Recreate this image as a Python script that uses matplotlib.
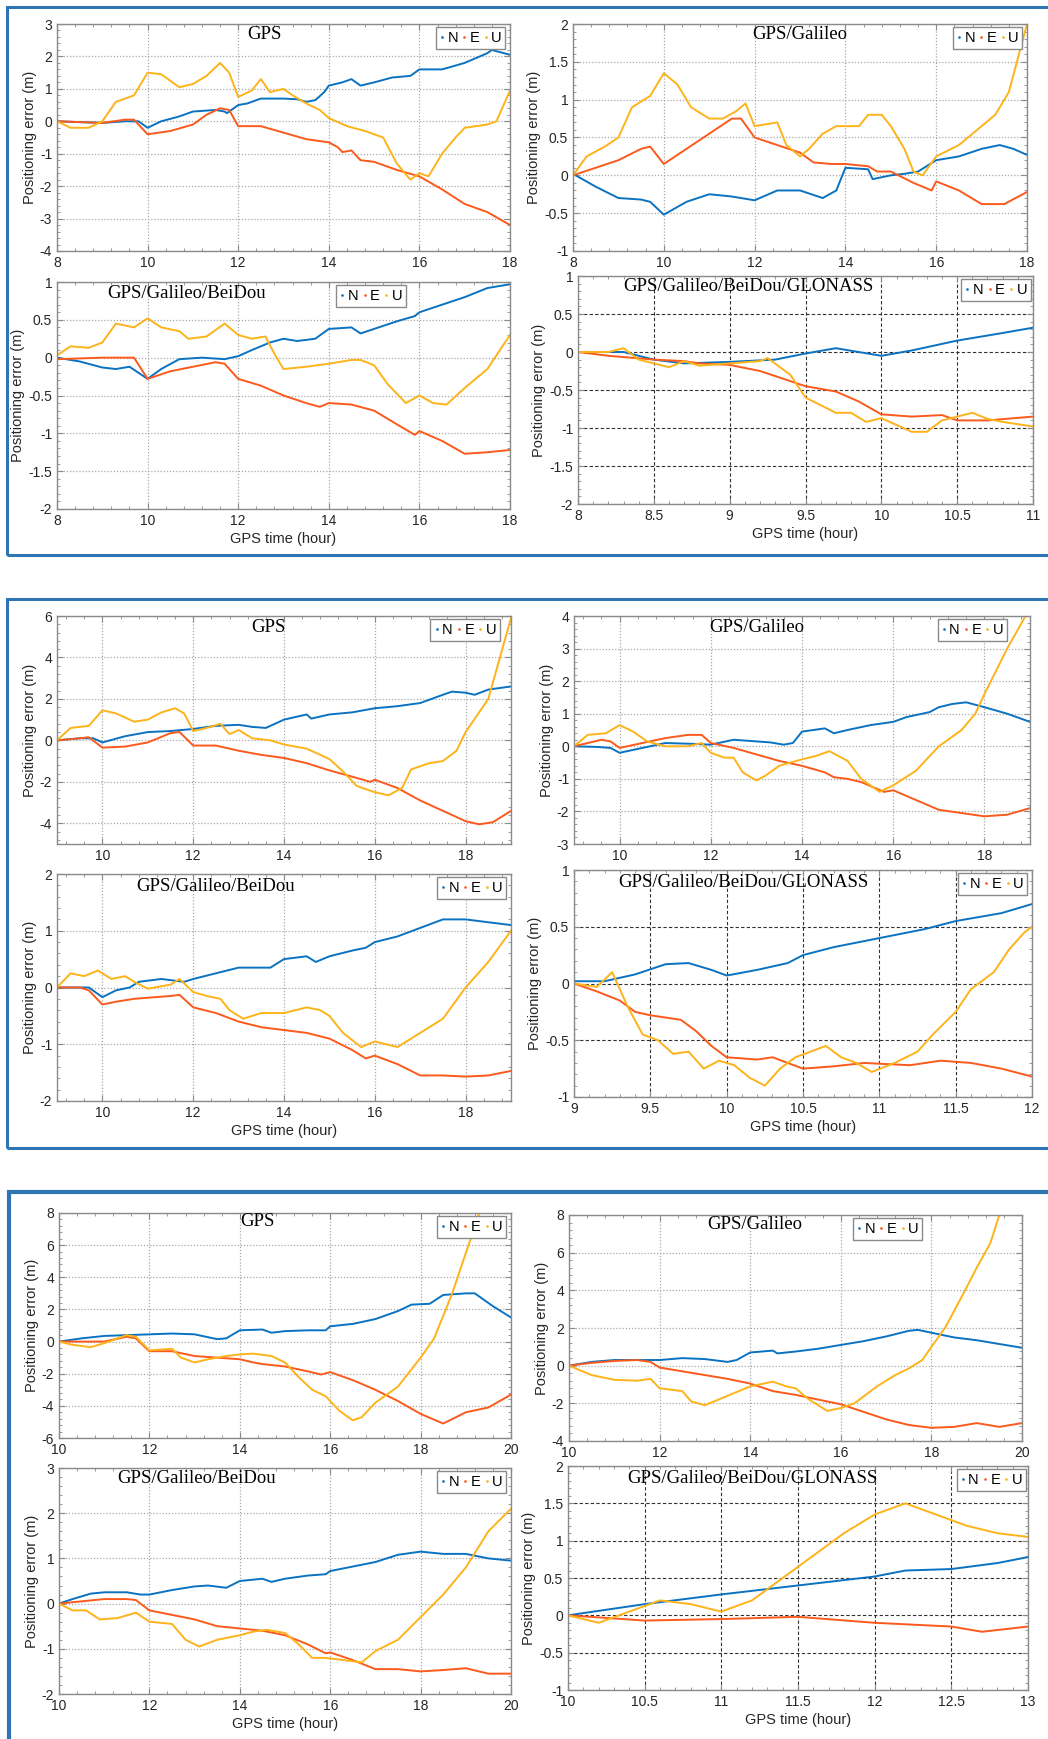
import matplotlib.pyplot as plt
from matplotlib.patches import Rectangle
from matplotlib.lines import Line2D
from matplotlib.ticker import MultipleLocator, AutoMinorLocator, FuncFormatter

# colours of the three components
c_n = '#0a72c0'
c_e = '#fb5a1c'
c_u = '#fdb31a'

# ---------------- dataset 1 (8-18 h) ----------------
d1_gps_tn = [8, 9, 9.5, 9.8, 10, 10.3, 10.7, 11, 11.5, 11.7, 11.75, 12, 12.2, 12.5, 13, 13.3, 13.5, 13.7, 13.9, 14, 14.3, 14.5, 14.7, 15, 15.4, 15.8, 16, 16.5, 17, 17.5, 17.6, 18]
d1_gps_n = [0, -0.05, 0, 0, -0.2, 0, 0.15, 0.3, 0.35, 0.3, 0.25, 0.5, 0.55, 0.7, 0.7, 0.68, 0.6, 0.65, 0.9, 1.1, 1.2, 1.3, 1.1, 1.2, 1.35, 1.4, 1.6, 1.6, 1.8, 2.1, 2.2, 2.05]
d1_gps_te = [8, 9, 9.5, 9.7, 10, 10.5, 11, 11.3, 11.6, 11.8, 12, 12.5, 13, 13.5, 14, 14.2, 14.3, 14.5, 14.7, 15, 15.5, 16, 16.5, 17, 17.5, 18]
d1_gps_e = [0, -0.05, 0.05, 0.05, -0.4, -0.3, -0.1, 0.2, 0.4, 0.35, -0.15, -0.15, -0.35, -0.55, -0.65, -0.8, -0.95, -0.9, -1.2, -1.25, -1.5, -1.7, -2.1, -2.55, -2.8, -3.2]
d1_gps_tu = [8, 8.3, 8.7, 9, 9.3, 9.7, 10, 10.3, 10.7, 11, 11.3, 11.6, 11.8, 12, 12.3, 12.5, 12.7, 13, 13.2, 13.5, 13.8, 14, 14.4, 14.8, 15.2, 15.5, 15.8, 16, 16.2, 16.5, 16.8, 17, 17.5, 17.7, 18]
d1_gps_u = [0, -0.2, -0.2, 0, 0.6, 0.8, 1.5, 1.45, 1.05, 1.15, 1.4, 1.8, 1.5, 0.75, 0.95, 1.3, 0.9, 1.0, 0.8, 0.55, 0.35, 0.1, -0.15, -0.3, -0.5, -1.3, -1.8, -1.6, -1.7, -1.0, -0.5, -0.2, -0.1, 0.0, 0.95]

d1_ge_tn = [8, 8.5, 9, 9.5, 9.7, 10, 10.5, 11, 11.5, 12, 12.5, 13, 13.5, 13.8, 14, 14.5, 14.6, 15, 15.3, 15.6, 16, 16.5, 17, 17.4, 17.7, 18]
d1_ge_n = [0.02, -0.15, -0.3, -0.32, -0.35, -0.52, -0.35, -0.25, -0.28, -0.33, -0.2, -0.2, -0.3, -0.2, 0.1, 0.08, -0.05, 0.0, 0.02, 0.05, 0.2, 0.25, 0.35, 0.4, 0.35, 0.27]
d1_ge_te = [8, 8.5, 9, 9.5, 9.7, 10, 10.5, 11, 11.5, 11.7, 12, 12.5, 13, 13.3, 13.7, 14, 14.5, 14.7, 15, 15.5, 15.9, 16, 16.5, 17, 17.5, 18]
d1_ge_e = [0, 0.1, 0.2, 0.35, 0.38, 0.15, 0.35, 0.55, 0.75, 0.75, 0.5, 0.4, 0.3, 0.17, 0.15, 0.15, 0.12, 0.05, 0.05, -0.1, -0.2, -0.08, -0.2, -0.38, -0.38, -0.22]
d1_ge_tu = [8, 8.3, 8.7, 9, 9.3, 9.7, 10, 10.3, 10.6, 11, 11.3, 11.6, 11.8, 12, 12.5, 12.7, 13, 13.2, 13.5, 13.8, 14.3, 14.5, 14.8, 15, 15.3, 15.5, 15.7, 16, 16.5, 17, 17.3, 17.6, 18]
d1_ge_u = [0, 0.25, 0.38, 0.5, 0.9, 1.05, 1.35, 1.2, 0.9, 0.75, 0.75, 0.85, 0.95, 0.65, 0.7, 0.4, 0.25, 0.35, 0.55, 0.65, 0.65, 0.8, 0.8, 0.65, 0.35, 0.05, 0.0, 0.25, 0.4, 0.65, 0.8, 1.1, 2.0]

d1_gec_tn = [8, 8.5, 9, 9.3, 9.6, 10, 10.3, 10.7, 11.2, 11.7, 12, 12.3, 12.7, 13, 13.3, 13.7, 14, 14.5, 14.7, 15, 15.5, 15.9, 16, 16.5, 17, 17.5, 18]
d1_gec_n = [0, -0.05, -0.13, -0.15, -0.12, -0.28, -0.15, -0.02, 0.0, -0.02, 0.02, 0.1, 0.2, 0.25, 0.22, 0.25, 0.38, 0.4, 0.32, 0.38, 0.48, 0.55, 0.6, 0.7, 0.8, 0.92, 0.97]
d1_gec_te = [8, 9, 9.5, 9.7, 10, 10.5, 11, 11.5, 11.7, 12, 12.5, 13, 13.5, 13.8, 14, 14.5, 15, 15.5, 15.9, 16, 16.5, 17, 17.5, 18]
d1_gec_e = [-0.02, 0.0, 0.0, 0.0, -0.28, -0.18, -0.12, -0.06, -0.08, -0.28, -0.37, -0.5, -0.6, -0.65, -0.6, -0.62, -0.7, -0.88, -1.02, -0.97, -1.1, -1.27, -1.25, -1.22]
d1_gec_tu = [8, 8.3, 8.7, 9, 9.3, 9.7, 10, 10.3, 10.7, 10.9, 11.3, 11.7, 12, 12.3, 12.6, 12.8, 13, 13.5, 14, 14.5, 14.7, 15, 15.3, 15.7, 16, 16.3, 16.6, 17, 17.5, 18]
d1_gec_u = [0.03, 0.15, 0.13, 0.2, 0.45, 0.4, 0.52, 0.4, 0.35, 0.25, 0.28, 0.45, 0.3, 0.25, 0.28, 0.05, -0.15, -0.12, -0.08, -0.03, -0.03, -0.1, -0.35, -0.6, -0.5, -0.6, -0.62, -0.4, -0.15, 0.3]

d1_all_tn = [8, 8.3, 8.5, 8.7, 9, 9.3, 9.5, 9.7, 9.85, 10, 10.2, 10.5, 10.8, 11]
d1_all_n = [0, 0.0, -0.1, -0.15, -0.13, -0.1, -0.02, 0.05, 0.0, -0.05, 0.02, 0.15, 0.25, 0.32]
d1_all_te = [8, 8.2, 8.5, 8.7, 8.8, 9, 9.2, 9.5, 9.7, 9.85, 10, 10.2, 10.4, 10.5, 10.7, 11]
d1_all_e = [0, -0.05, -0.1, -0.12, -0.15, -0.17, -0.25, -0.45, -0.52, -0.65, -0.82, -0.85, -0.83, -0.9, -0.9, -0.85]
d1_all_tu = [8, 8.2, 8.3, 8.4, 8.6, 8.7, 8.8, 9, 9.2, 9.25, 9.4, 9.5, 9.7, 9.8, 9.9, 10, 10.2, 10.3, 10.4, 10.5, 10.6, 10.7, 10.8, 11]
d1_all_u = [0, 0.0, 0.05, -0.1, -0.2, -0.12, -0.18, -0.15, -0.12, -0.08, -0.3, -0.6, -0.8, -0.8, -0.92, -0.87, -1.05, -1.05, -0.9, -0.85, -0.8, -0.88, -0.92, -0.98]

# ---------------- dataset 2 (9-19 h) ----------------
d2_gps_tn = [9, 9.5, 9.8, 10, 10.5, 11, 11.5, 12, 12.5, 13, 13.3, 13.6, 14, 14.5, 14.6, 15, 15.5, 16, 16.5, 17, 17.5, 17.7, 18, 18.2, 18.5, 19]
d2_gps_n = [0, 0.1, 0.1, -0.1, 0.2, 0.4, 0.45, 0.55, 0.7, 0.75, 0.65, 0.6, 1.0, 1.25, 1.05, 1.25, 1.35, 1.55, 1.65, 1.8, 2.2, 2.35, 2.3, 2.2, 2.45, 2.6]
d2_gps_te = [9, 9.5, 9.7, 10, 10.5, 11, 11.5, 11.7, 12, 12.5, 13, 13.5, 14, 14.5, 15, 15.5, 15.9, 16, 16.5, 17, 17.5, 18, 18.3, 18.6, 19]
d2_gps_e = [0, 0.1, 0.15, -0.35, -0.3, -0.1, 0.35, 0.4, -0.25, -0.25, -0.5, -0.7, -0.85, -1.1, -1.45, -1.75, -2.0, -1.9, -2.3, -2.9, -3.4, -3.9, -4.05, -3.95, -3.4]
d2_gps_tu = [9, 9.3, 9.7, 10, 10.3, 10.7, 11, 11.3, 11.6, 11.8, 12, 12.3, 12.6, 12.8, 13, 13.3, 13.7, 14, 14.5, 15, 15.3, 15.6, 16, 16.3, 16.6, 16.8, 17.2, 17.5, 17.8, 18, 18.5, 19]
d2_gps_u = [0, 0.6, 0.7, 1.45, 1.3, 0.9, 1.0, 1.35, 1.55, 1.3, 0.45, 0.6, 0.8, 0.3, 0.5, 0.1, 0.0, -0.2, -0.4, -0.9, -1.5, -2.2, -2.5, -2.65, -2.3, -1.4, -1.1, -1.0, -0.5, 0.4, 2.0, 5.9]

d2_ge_tn = [9, 9.5, 9.8, 10, 10.5, 11, 11.5, 12, 12.5, 13, 13.3, 13.6, 13.8, 14, 14.5, 14.7, 15, 15.5, 16, 16.3, 16.8, 17, 17.3, 17.6, 18, 18.5, 19]
d2_ge_n = [0, -0.02, -0.05, -0.2, -0.05, 0.1, 0.08, 0.05, 0.2, 0.15, 0.12, 0.05, 0.1, 0.45, 0.55, 0.4, 0.5, 0.65, 0.75, 0.9, 1.05, 1.2, 1.3, 1.35, 1.2, 1.0, 0.75]
d2_ge_te = [9, 9.3, 9.6, 9.8, 10, 10.5, 11, 11.5, 11.8, 12, 12.5, 13, 13.5, 14, 14.5, 14.7, 15, 15.3, 15.8, 16, 16.5, 17, 17.5, 18, 18.5, 19]
d2_ge_e = [0, 0.1, 0.2, 0.15, -0.05, 0.1, 0.25, 0.35, 0.35, 0.1, -0.05, -0.25, -0.45, -0.6, -0.8, -0.95, -1.0, -1.1, -1.4, -1.35, -1.65, -1.95, -2.05, -2.15, -2.1, -1.9]
d2_ge_tu = [9, 9.3, 9.7, 10, 10.3, 10.6, 11, 11.5, 11.8, 12, 12.3, 12.5, 12.7, 13, 13.2, 13.5, 14, 14.3, 14.6, 14.8, 15, 15.3, 15.7, 16, 16.5, 17, 17.5, 17.8, 18, 18.5, 18.9]
d2_ge_u = [0, 0.35, 0.4, 0.65, 0.45, 0.15, 0.0, 0.0, 0.1, -0.2, -0.35, -0.35, -0.8, -1.05, -0.9, -0.6, -0.4, -0.3, -0.15, -0.3, -0.45, -1.0, -1.4, -1.2, -0.75, 0.0, 0.5, 1.0, 1.6, 3.0, 4.0]

d2_gec_tn = [9, 9.5, 9.7, 10, 10.3, 10.6, 10.8, 11.3, 11.8, 12, 12.5, 13, 13.3, 13.7, 14, 14.5, 14.7, 15, 15.5, 15.8, 16, 16.5, 17, 17.5, 18, 18.5, 19]
d2_gec_n = [0, 0.0, 0.0, -0.17, -0.05, 0.0, 0.1, 0.15, 0.1, 0.15, 0.25, 0.35, 0.35, 0.35, 0.5, 0.55, 0.45, 0.55, 0.65, 0.7, 0.8, 0.9, 1.05, 1.2, 1.2, 1.15, 1.1]
d2_gec_te = [9, 9.5, 9.7, 10, 10.3, 10.7, 11, 11.5, 11.7, 12, 12.5, 13, 13.5, 14, 14.5, 15, 15.5, 15.8, 16, 16.5, 17, 17.5, 18, 18.5, 19]
d2_gec_e = [0, 0.0, -0.05, -0.3, -0.25, -0.2, -0.18, -0.15, -0.13, -0.35, -0.45, -0.6, -0.7, -0.75, -0.8, -0.9, -1.1, -1.25, -1.2, -1.35, -1.55, -1.55, -1.57, -1.55, -1.47]
d2_gec_tu = [9, 9.3, 9.6, 9.9, 10.2, 10.5, 10.7, 11, 11.5, 11.7, 12, 12.3, 12.6, 12.8, 13.1, 13.5, 14, 14.5, 14.8, 15, 15.3, 15.7, 16, 16.5, 17, 17.5, 18, 18.5, 19]
d2_gec_u = [0, 0.25, 0.2, 0.3, 0.15, 0.2, 0.1, -0.02, 0.05, 0.15, -0.08, -0.15, -0.2, -0.4, -0.55, -0.45, -0.45, -0.35, -0.4, -0.5, -0.8, -1.05, -0.95, -1.05, -0.8, -0.55, 0.0, 0.45, 1.0]

d2_all_tn = [9, 9.2, 9.4, 9.6, 9.75, 9.9, 10.0, 10.2, 10.4, 10.5, 10.7, 11, 11.3, 11.5, 11.8, 12]
d2_all_n = [0.02, 0.02, 0.08, 0.17, 0.18, 0.12, 0.07, 0.12, 0.18, 0.25, 0.32, 0.4, 0.48, 0.55, 0.62, 0.7]
d2_all_te = [9, 9.15, 9.3, 9.4, 9.5, 9.7, 9.8, 9.9, 10.0, 10.2, 10.3, 10.5, 10.7, 10.9, 11.2, 11.4, 11.6, 11.8, 12]
d2_all_e = [0.0, -0.07, -0.15, -0.25, -0.28, -0.32, -0.42, -0.55, -0.65, -0.67, -0.65, -0.75, -0.73, -0.7, -0.72, -0.68, -0.7, -0.75, -0.82]
d2_all_tu = [9, 9.15, 9.25, 9.35, 9.45, 9.55, 9.65, 9.75, 9.85, 9.95, 10.05, 10.15, 10.25, 10.35, 10.45, 10.55, 10.65, 10.75, 10.85, 10.95, 11.1, 11.25, 11.35, 11.5, 11.6, 11.75, 11.85, 11.95, 12]
d2_all_u = [0.0, -0.03, 0.1, -0.2, -0.45, -0.5, -0.62, -0.6, -0.75, -0.68, -0.72, -0.83, -0.9, -0.75, -0.65, -0.6, -0.55, -0.65, -0.7, -0.78, -0.7, -0.6, -0.45, -0.25, -0.05, 0.1, 0.3, 0.45, 0.5]

# ---------------- dataset 3 (10-20 h) ----------------
d3_gps_tn = [10, 10.5, 11, 11.5, 12, 12.5, 13, 13.5, 13.7, 14, 14.5, 14.7, 15, 15.5, 15.9, 16, 16.5, 17, 17.5, 17.8, 18.2, 18.5, 19.0, 19.2, 19.6, 20]
d3_gps_n = [0.0, 0.2, 0.35, 0.4, 0.45, 0.5, 0.45, 0.15, 0.2, 0.7, 0.75, 0.55, 0.65, 0.7, 0.7, 0.95, 1.1, 1.4, 1.9, 2.3, 2.35, 2.9, 3.0, 3.0, 2.2, 1.5]
d3_gps_te = [10, 10.5, 11, 11.5, 11.7, 12, 12.5, 13, 13.5, 14, 14.3, 14.5, 15, 15.5, 15.8, 16, 16.5, 17, 17.5, 18, 18.5, 19, 19.5, 20]
d3_gps_e = [0.0, 0.0, 0.0, 0.3, 0.2, -0.6, -0.6, -0.9, -1.0, -1.1, -1.3, -1.4, -1.55, -1.85, -2.05, -1.9, -2.4, -3.0, -3.7, -4.5, -5.1, -4.4, -4.1, -3.3]
d3_gps_tu = [10, 10.3, 10.7, 11, 11.5, 11.7, 12, 12.5, 12.7, 13, 13.3, 13.7, 14, 14.3, 14.7, 15, 15.3, 15.6, 15.9, 16.2, 16.5, 16.7, 17, 17.5, 18, 18.3, 18.7, 19.0, 19.3]
d3_gps_u = [0.0, -0.2, -0.35, -0.1, 0.4, 0.3, -0.55, -0.45, -1.0, -1.3, -1.1, -0.9, -0.8, -0.75, -0.9, -1.3, -2.2, -3.0, -3.4, -4.3, -4.9, -4.7, -3.8, -2.8, -1.0, 0.2, 3.0, 5.5, 8.0]

d3_ge_tn = [10, 10.5, 11, 11.5, 12, 12.5, 13, 13.5, 13.7, 14, 14.5, 14.6, 15, 15.5, 16, 16.5, 17, 17.5, 17.7, 18, 18.5, 19, 19.5, 20]
d3_ge_n = [0.0, 0.2, 0.3, 0.3, 0.3, 0.4, 0.35, 0.2, 0.3, 0.7, 0.8, 0.65, 0.75, 0.9, 1.1, 1.3, 1.55, 1.85, 1.9, 1.75, 1.5, 1.35, 1.15, 0.95]
d3_ge_te = [10, 10.5, 11, 11.5, 11.8, 12, 12.5, 13, 13.5, 14, 14.5, 15, 15.5, 16, 16.5, 17, 17.5, 18, 18.5, 19, 19.5, 20]
d3_ge_e = [0.0, 0.15, 0.25, 0.3, 0.2, -0.1, -0.3, -0.5, -0.7, -0.95, -1.35, -1.55, -1.8, -2.05, -2.45, -2.85, -3.15, -3.3, -3.25, -3.05, -3.25, -3.05]
d3_ge_tu = [10, 10.5, 11, 11.5, 11.8, 12, 12.5, 12.7, 13, 13.5, 14, 14.5, 14.8, 15, 15.3, 15.7, 16, 16.3, 16.8, 17.2, 17.5, 17.8, 18, 18.3, 18.7, 19, 19.3, 19.5]
d3_ge_u = [0.0, -0.5, -0.75, -0.8, -0.7, -1.2, -1.35, -1.9, -2.1, -1.6, -1.1, -0.85, -1.1, -1.2, -1.8, -2.4, -2.25, -2.0, -1.1, -0.5, -0.15, 0.3, 1.0, 2.0, 3.8, 5.2, 6.5, 8.0]

d3_gec_tn = [10, 10.3, 10.7, 11, 11.5, 11.8, 12, 12.5, 13, 13.3, 13.7, 14, 14.5, 14.7, 15, 15.5, 15.9, 16, 16.5, 17, 17.5, 18, 18.5, 19, 19.5, 20]
d3_gec_n = [0.0, 0.1, 0.22, 0.25, 0.25, 0.2, 0.2, 0.3, 0.38, 0.4, 0.35, 0.5, 0.55, 0.48, 0.55, 0.62, 0.65, 0.72, 0.82, 0.92, 1.08, 1.15, 1.1, 1.1, 1.0, 0.95]
d3_gec_te = [10, 10.5, 11, 11.5, 11.7, 12, 12.5, 13, 13.5, 14, 14.5, 15, 15.5, 15.9, 16, 16.5, 17, 17.5, 18, 18.5, 19, 19.5, 20]
d3_gec_e = [0.0, 0.05, 0.1, 0.1, 0.08, -0.15, -0.25, -0.35, -0.5, -0.55, -0.6, -0.7, -0.9, -1.1, -1.08, -1.25, -1.45, -1.45, -1.5, -1.47, -1.43, -1.55, -1.55]
d3_gec_tu = [10, 10.3, 10.6, 10.9, 11.3, 11.7, 12, 12.5, 12.8, 13.1, 13.5, 14, 14.3, 14.6, 15, 15.3, 15.6, 15.9, 16.3, 16.7, 17, 17.5, 18, 18.5, 19, 19.5, 20]
d3_gec_u = [0.0, -0.15, -0.15, -0.35, -0.32, -0.2, -0.4, -0.45, -0.8, -0.95, -0.8, -0.7, -0.62, -0.58, -0.65, -0.9, -1.2, -1.2, -1.25, -1.3, -1.05, -0.8, -0.3, 0.2, 0.8, 1.6, 2.1]

d3_all_tn = [10, 10.5, 11, 11.5, 12, 12.2, 12.5, 12.8, 13]
d3_all_n = [0.0, 0.15, 0.28, 0.4, 0.52, 0.6, 0.62, 0.7, 0.78]
d3_all_te = [10, 10.5, 11, 11.5, 12, 12.5, 12.7, 13]
d3_all_e = [0.0, -0.07, -0.05, -0.02, -0.1, -0.15, -0.22, -0.15]
d3_all_tu = [10, 10.2, 10.4, 10.6, 10.8, 11, 11.2, 11.4, 11.6, 11.8, 12.0, 12.2, 12.4, 12.6, 12.8, 13]
d3_all_u = [0.0, -0.1, 0.05, 0.2, 0.15, 0.05, 0.2, 0.5, 0.8, 1.1, 1.35, 1.5, 1.35, 1.2, 1.1, 1.05]

W, H = 1048, 1739
fig = plt.figure(figsize=(W / 100, H / 100), dpi=100)

# blue frames around the three groups (pixel boxes)
for (x0, y0, x1, y1, lw) in [(7, 7, 1070, 555, 2.2), (7, 599, 1070, 1148, 2.2), (9, 1192, 1070, 1770, 3.0)]:
    fig.add_artist(Rectangle((x0 / W, 1 - y1 / H), (x1 - x0) / W, (y1 - y0) / H,
                             transform=fig.transFigure, fill=False, ec='#2f74b3', lw=lw))

fmt = FuncFormatter(lambda v, _: f'{v:g}')


def panel(box, xlim, xstep, ylim, ystep, title, tpos, legx, series, dark=False, xlabel=False):
    l, t, r, b = box
    ax = fig.add_axes([l / W, 1 - b / H, (r - l) / W, (b - t) / H])
    for (tt, vv, c) in series:
        ax.plot(tt, vv, color=c, lw=1.4)
    ax.set_xlim(xlim)
    ax.set_ylim(ylim)
    ax.xaxis.set_major_locator(MultipleLocator(xstep))
    ax.yaxis.set_major_locator(MultipleLocator(ystep))
    ax.xaxis.set_minor_locator(AutoMinorLocator(5))
    ax.yaxis.set_minor_locator(AutoMinorLocator(5))
    ax.xaxis.set_major_formatter(fmt)
    ax.yaxis.set_major_formatter(fmt)
    ax.tick_params(which='both', direction='in', top=True, right=True, color='#8a8a8a',
                   labelsize=10, labelcolor='#262626')
    ax.tick_params(which='major', length=4)
    ax.tick_params(which='minor', length=2)
    for s in ax.spines.values():
        s.set_color('#8a8a8a')
        s.set_linewidth(1.0)
    if dark:
        ax.grid(True, which='major', color='#303030', ls=(0, (3, 2)), lw=0.8)
    else:
        ax.grid(True, which='major', color='#a8a8a8', ls=(0, (1, 1.5)), lw=0.9)
    ax.set_axisbelow(True)
    ax.set_ylabel('Positioning error (m)', fontsize=10.5, color='#262626', labelpad=2)
    if xlabel:
        ax.set_xlabel('GPS time (hour)', fontsize=10.5, color='#262626', labelpad=3)
    ax.text(tpos[0], tpos[1], title, transform=ax.transAxes, ha='center', va='center',
            family='Liberation Serif', fontsize=13.5)
    handles = [Line2D([], [], ls='none', marker='.', ms=1.8, color=c) for c in (c_n, c_e, c_u)]
    leg = ax.legend(handles, ['N', 'E', 'U'], ncol=3, loc='upper right', bbox_to_anchor=(legx, 0.985),
                    fontsize=10.5, handlelength=0.35, handletextpad=0.2, columnspacing=0.25,
                    borderpad=0.25, borderaxespad=0, fancybox=False, framealpha=1, edgecolor='#8a8a8a')
    leg.get_frame().set_linewidth(1.0)
    return ax


plt.rcParams['font.family'] = ['Liberation Sans', 'DejaVu Sans']

# group 1
panel((57, 24, 510, 251), (8, 18), 2, (-4, 3), 1, 'GPS', (0.457, 0.955), 0.99,
      [(d1_gps_tn, d1_gps_n, c_n), (d1_gps_te, d1_gps_e, c_e), (d1_gps_tu, d1_gps_u, c_u)])
panel((573, 24, 1027, 251), (8, 18), 2, (-1, 2), 0.5, 'GPS/Galileo', (0.50, 0.955), 0.99,
      [(d1_ge_tn, d1_ge_n, c_n), (d1_ge_te, d1_ge_e, c_e), (d1_ge_tu, d1_ge_u, c_u)])
panel((57, 282, 510, 509), (8, 18), 2, (-2, 1), 0.5, 'GPS/Galileo/BeiDou', (0.287, 0.95), 0.77,
      [(d1_gec_tn, d1_gec_n, c_n), (d1_gec_te, d1_gec_e, c_e), (d1_gec_tu, d1_gec_u, c_u)], xlabel=True)
panel((578, 276, 1033, 504), (8, 11), 0.5, (-2, 1), 0.5, 'GPS/Galileo/BeiDou/GLONASS', (0.374, 0.956), 0.995,
      [(d1_all_tn, d1_all_n, c_n), (d1_all_te, d1_all_e, c_e), (d1_all_tu, d1_all_u, c_u)], dark=True, xlabel=True)

# group 2
panel((57, 616, 511, 844), (9, 19), 2, (-5, 6), 2, 'GPS', (0.465, 0.95), 0.976,
      [(d2_gps_tn, d2_gps_n, c_n), (d2_gps_te, d2_gps_e, c_e), (d2_gps_tu, d2_gps_u, c_u)])
panel((574, 616, 1030, 844), (9, 19), 2, (-3, 4), 1, 'GPS/Galileo', (0.40, 0.95), 0.95,
      [(d2_ge_tn, d2_ge_n, c_n), (d2_ge_te, d2_ge_e, c_e), (d2_ge_tu, d2_ge_u, c_u)])
panel((57, 874, 511, 1101), (9, 19), 2, (-2, 2), 1, 'GPS/Galileo/BeiDou', (0.35, 0.947), 0.99,
      [(d2_gec_tn, d2_gec_n, c_n), (d2_gec_te, d2_gec_e, c_e), (d2_gec_tu, d2_gec_u, c_u)], xlabel=True)
panel((574, 870, 1032, 1097), (9, 12), 0.5, (-1, 1), 0.5, 'GPS/Galileo/BeiDou/GLONASS', (0.369, 0.947), 0.99,
      [(d2_all_tn, d2_all_n, c_n), (d2_all_te, d2_all_e, c_e), (d2_all_tu, d2_all_u, c_u)], dark=True, xlabel=True)

# group 3
panel((59, 1213, 511, 1438), (10, 20), 2, (-6, 8), 2, 'GPS', (0.44, 0.96), 0.99,
      [(d3_gps_tn, d3_gps_n, c_n), (d3_gps_te, d3_gps_e, c_e), (d3_gps_tu, d3_gps_u, c_u)])
panel((569, 1215, 1022, 1441), (10, 20), 2, (-4, 8), 2, 'GPS/Galileo', (0.41, 0.96), 0.78,
      [(d3_ge_tn, d3_ge_n, c_n), (d3_ge_te, d3_ge_e, c_e), (d3_ge_tu, d3_ge_u, c_u)])
panel((59, 1468, 511, 1694), (10, 20), 2, (-2, 3), 1, 'GPS/Galileo/BeiDou', (0.305, 0.955), 0.99,
      [(d3_gec_tn, d3_gec_n, c_n), (d3_gec_te, d3_gec_e, c_e), (d3_gec_tu, d3_gec_u, c_u)], xlabel=True)
panel((568, 1466, 1028, 1690), (10, 13), 0.5, (-1, 2), 0.5, 'GPS/Galileo/BeiDou/GLONASS', (0.40, 0.946), 0.996,
      [(d3_all_tn, d3_all_n, c_n), (d3_all_te, d3_all_e, c_e), (d3_all_tu, d3_all_u, c_u)], dark=True, xlabel=True)

fig.savefig('out.png', dpi=100)
